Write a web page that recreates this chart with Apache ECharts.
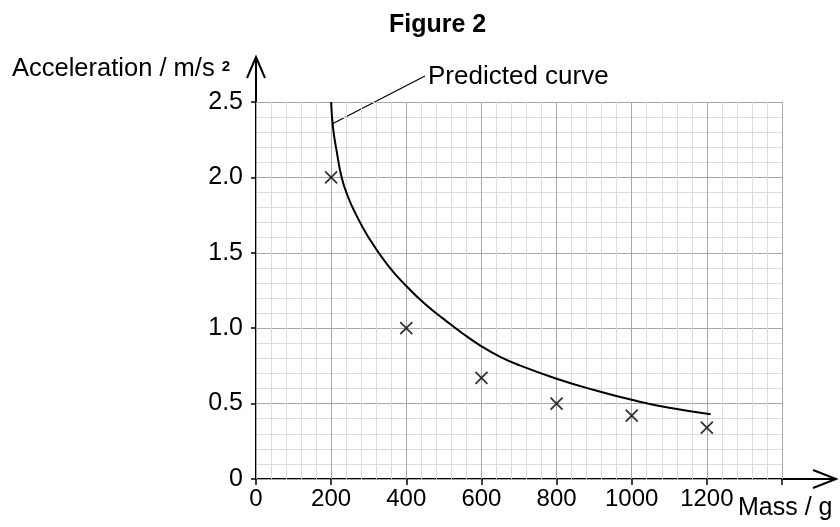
<!DOCTYPE html>
<html>
<head>
<meta charset="utf-8">
<script src="https://cdn.jsdelivr.net/npm/echarts@6/dist/echarts.min.js"></script>
<style>
  html, body { margin: 0; padding: 0; background: #fff; }
  #main { width: 840px; height: 527px; }
</style>
</head>
<body>
<div id="main"></div>
<script>
// 测量的数据点（质量 g，加速度 m/s²）
var massData = [200, 400, 600, 800, 1000, 1200];
var accelData = [2.0, 1.0, 0.67, 0.5, 0.42, 0.34];

// 预测曲线上读出的点
var curveMass = [200, 205, 215, 228, 245, 265, 300, 350, 400, 450, 500, 550, 600, 650, 700, 800, 900, 1000, 1100, 1210];
var curveAccel = [2.5, 2.33, 2.17, 2.0, 1.87, 1.76, 1.6, 1.42, 1.28, 1.16, 1.06, 0.965, 0.88, 0.81, 0.755, 0.665, 0.59, 0.525, 0.472, 0.43];

var xTicks = [0, 200, 400, 600, 800, 1000, 1200];

var chart = echarts.init(document.getElementById('main'));

var measured = massData.map(function (m, i) { return [m, accelData[i]]; });
var predicted = curveMass.map(function (m, i) { return [m, curveAccel[i]]; });

var font = 'Liberation Sans, Arial, sans-serif';

var option = {
    backgroundColor: '#fff',
    animation: false,
    title: {
        text: 'Figure 2',
        left: 384,
        top: 8,
        textStyle: { fontFamily: font, fontSize: 25, fontWeight: 'bold', color: '#000' }
    },
    grid: { left: 256, right: 58, top: 102, bottom: 48 },
    xAxis: {
        type: 'value',
        min: 0,
        max: 1400,
        interval: 200,
        axisLine: { show: false },
        axisTick: { show: true, length: 6, lineStyle: { color: '#000', width: 1.5 } },
        axisLabel: {
            color: '#000', fontFamily: font, fontSize: 24, margin: 8,
            formatter: function (v) { return xTicks.indexOf(v) >= 0 ? String(v) : ''; }
        },
        splitLine: { show: true, lineStyle: { color: '#a8a8a8', width: 1 } },
        minorTick: { show: false, splitNumber: 5 },
        minorSplitLine: { show: true, lineStyle: { color: '#dcdcdc', width: 1 } }
    },
    yAxis: {
        type: 'value',
        min: 0,
        max: 2.5,
        interval: 0.5,
        axisLine: { show: false },
        axisTick: { show: true, length: 5, lineStyle: { color: '#000', width: 1.5 } },
        axisLabel: {
            color: '#000', fontFamily: font, fontSize: 25, margin: 13,
            formatter: function (v) { return v === 0 ? '0' : v.toFixed(1); }
        },
        splitLine: { show: true, lineStyle: { color: '#a8a8a8', width: 1 } },
        minorTick: { show: false, splitNumber: 5 },
        minorSplitLine: { show: true, lineStyle: { color: '#dcdcdc', width: 1 } }
    },
    series: [
        {
            name: 'Predicted curve',
            type: 'line',
            data: predicted,
            smooth: 0.5,
            showSymbol: false,
            lineStyle: { color: '#000', width: 2 },
            z: 3
        },
        {
            name: 'Measured',
            type: 'scatter',
            data: measured,
            symbol: 'path://M0,0L10,10M10,0L0,10',
            symbolSize: 12,
            itemStyle: { color: 'none', borderColor: '#000', borderWidth: 1.8 },
            z: 4
        }
    ],
    graphic: [
        // 坐标轴 + 开口箭头
        { type: 'polyline', shape: { points: [[256, 480], [256, 58]] }, style: { stroke: '#000', lineWidth: 2, fill: null } },
        { type: 'polyline', shape: { points: [[247, 78], [256, 57], [265, 78]] }, style: { stroke: '#000', lineWidth: 2, fill: null } },
        { type: 'polyline', shape: { points: [[255, 479], [835, 479]] }, style: { stroke: '#000', lineWidth: 2, fill: null } },
        { type: 'polyline', shape: { points: [[813, 470], [836, 479], [813, 488]] }, style: { stroke: '#000', lineWidth: 2, fill: null } },
        // 标注线
        { type: 'line', shape: { x1: 332, y1: 124, x2: 425, y2: 76 }, style: { stroke: '#000', lineWidth: 1.2 } },
        {
            type: 'text', left: 428, top: 64,
            style: { text: 'Predicted curve', fill: '#000', font: '26px ' + font }
        },
        {
            type: 'text', left: 12, top: 56,
            style: {
                text: '{a|Acceleration / m/s}{b|2}',
                rich: {
                    a: { fontFamily: font, fontSize: 25.5, color: '#000' },
                    b: { fontFamily: font, fontSize: 15, fontWeight: 'bold', color: '#000', padding: [0, 0, 5, 7] }
                }
            }
        },
        {
            type: 'text', left: 738, top: 496,
            style: { text: 'Mass / g', fill: '#000', font: '25px ' + font }
        }
    ]
};

chart.setOption(option);
</script>
</body>
</html>
